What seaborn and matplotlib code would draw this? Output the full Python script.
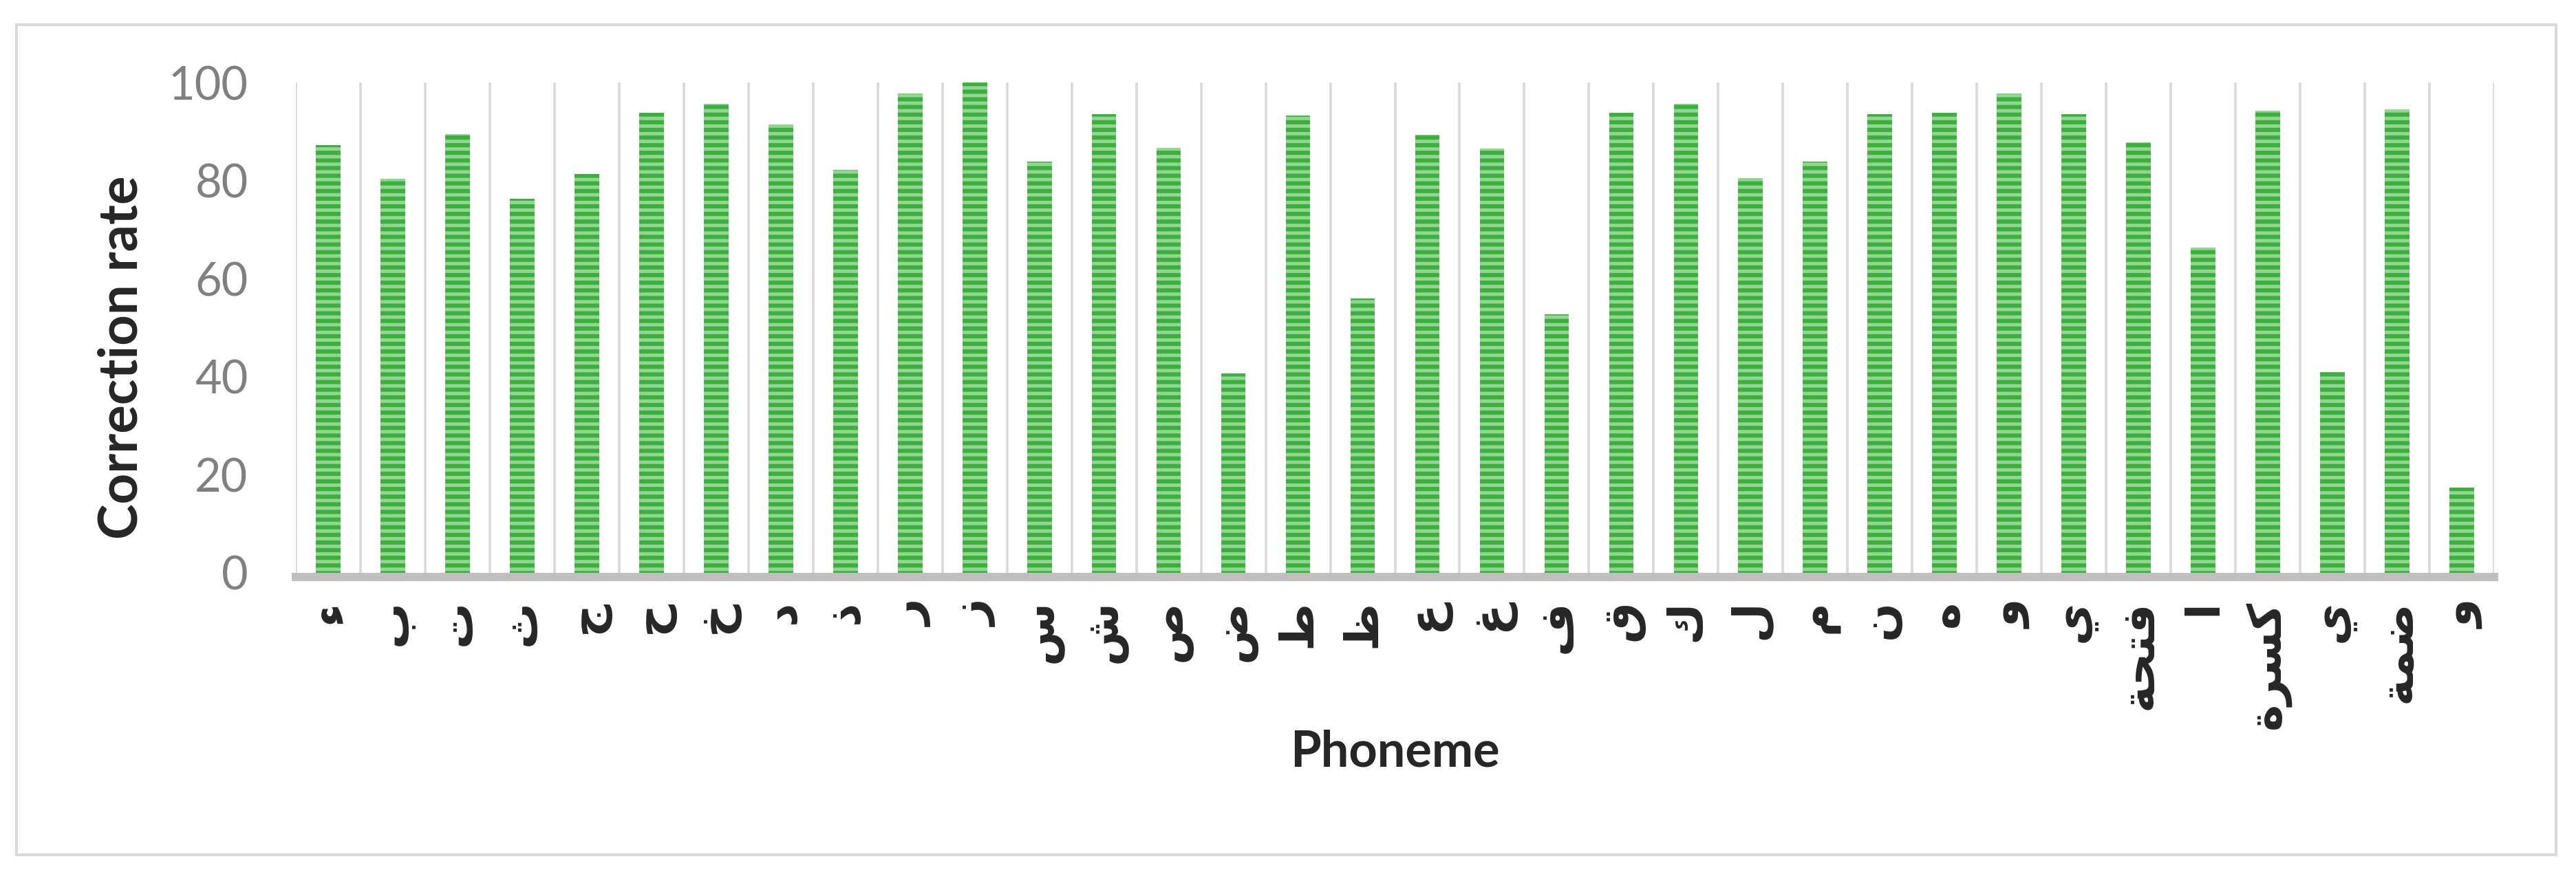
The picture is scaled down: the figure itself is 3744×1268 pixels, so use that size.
import numpy as np
import pandas as pd
import matplotlib
matplotlib.use("Agg")
import matplotlib.pyplot as plt
import seaborn as sns
from matplotlib.patches import Rectangle

# data
phonemes = ['ء', 'ب', 'ت', 'ث', 'ج', 'ح', 'خ', 'د', 'ذ', 'ر', 'ز', 'س', 'ش', 'ص',
            'ض', 'ط', 'ظ', 'ع', 'غ', 'ف', 'ق', 'ك', 'ل', 'م', 'ن', 'ه', 'و', 'ي',
            'فتحة', 'ا', 'كسرة', 'ي', 'ضمة', 'و']
correction_rate = [87.3, 80.3, 89.5, 76.3, 81.4, 93.8, 95.7, 91.5, 82.2, 97.7,
                   100.0, 83.9, 93.5, 86.7, 40.7, 93.2, 55.9, 89.3, 86.5, 52.8,
                   93.8, 95.7, 80.5, 83.9, 93.5, 93.8, 97.7, 93.5, 87.8, 66.3,
                   94.3, 41.0, 94.6, 17.4]
y_ticks = [0, 20, 40, 60, 80, 100]

DARK = '#3DAF3D'
LIGHT = '#93D593'

# matplotlib has no arabic shaping, so join the few multi-letter words by hand
FORMS = {
    'ف': ('\uFED1', '\uFED2', '\uFED3', '\uFED4'),
    'ت': ('\uFE95', '\uFE96', '\uFE97', '\uFE98'),
    'ح': ('\uFEA1', '\uFEA2', '\uFEA3', '\uFEA4'),
    'ة': ('\uFE93', '\uFE94', None, None),
    'ك': ('\uFED9', '\uFEDA', '\uFEDB', '\uFEDC'),
    'س': ('\uFEB1', '\uFEB2', '\uFEB3', '\uFEB4'),
    'ر': ('\uFEAD', '\uFEAE', None, None),
    'ض': ('\uFEBD', '\uFEBE', '\uFEBF', '\uFEC0'),
    'م': ('\uFEE1', '\uFEE2', '\uFEE3', '\uFEE4'),
}


def shape(word):
    if len(word) == 1:
        return word
    out = []
    for i, ch in enumerate(word):
        prev = i > 0 and FORMS[word[i - 1]][2] is not None
        nxt = i < len(word) - 1 and FORMS[ch][2] is not None
        idx = 3 if (prev and nxt) else 1 if prev else 2 if nxt else 0
        out.append(FORMS[ch][idx])
    return ''.join(reversed(out))


sns.set_style("white")
plt.rcParams['font.family'] = ['Lato', 'DejaVu Sans']
plt.rcParams['hatch.linewidth'] = 1.8

W, H, DPI = 3744, 1268, 200
fig = plt.figure(figsize=(W / DPI, H / DPI), dpi=DPI)
ax = fig.add_axes([430 / W, 435 / H, 3195 / W, 713 / H])

df = pd.DataFrame({'pos': range(len(correction_rate)), 'rate': correction_rate})
sns.barplot(data=df, x='pos', y='rate', color=DARK, saturation=1, width=0.38, ax=ax)
for p in ax.patches:
    p.set_hatch('---')
    p.set_edgecolor(LIGHT)
    p.set_linewidth(0)

ax.set_xlim(-0.5, len(correction_rate) - 0.5)
ax.set_ylim(0, 100)

# category separators like the Excel vertical gridlines
ax.grid(False)
ax.set_xticks(np.arange(-0.5, len(phonemes), 1), minor=True)
ax.grid(which='minor', axis='x', color='#D9D9D9', lw=1.3)
ax.set_axisbelow(True)
ax.tick_params(which='both', length=0)
ax.tick_params(axis='y', pad=25)
ax.tick_params(axis='x', pad=12)

for s in ['left', 'top', 'right']:
    ax.spines[s].set_visible(False)
ax.spines['bottom'].set_color('#BFBFBF')
ax.spines['bottom'].set_linewidth(4.3)
ax.spines['bottom'].set_position(('outward', 2.2))

ax.set_yticks(y_ticks)
ax.set_yticklabels([str(t) for t in y_ticks], fontsize=24, color='#808080')
ax.set_xticks(range(len(phonemes)))
ax.set_xticklabels([shape(p) for p in phonemes])
for lbl in ax.get_xticklabels():
    lbl.set_rotation(90)
    lbl.set_fontfamily(['DejaVu Sans'])
    lbl.set_fontweight('bold')
    lbl.set_fontsize(24)
    lbl.set_va('top')
    lbl.set_ha('center')

ax.set_ylabel('Correction rate', fontsize=28, fontweight='bold', va='center')
ax.yaxis.set_label_coords(-0.079, 0.44)
ax.set_xlabel('Phoneme', fontsize=26, fontweight='bold', va='center')
ax.xaxis.set_label_coords(0.5, -0.366)

fig.add_artist(Rectangle((24 / W, 25 / H), 3691 / W, 1207 / H, transform=fig.transFigure,
                         fill=False, edgecolor='#D9D9D9', lw=1.5))

fig.savefig('out.png', dpi=DPI)
